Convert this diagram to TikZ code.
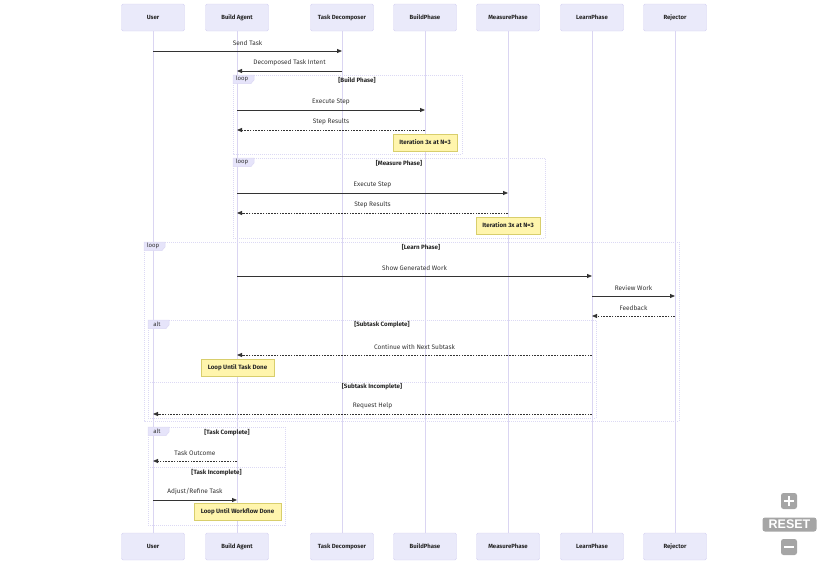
\documentclass[tikz,border=0pt]{standalone}
\usepackage{fontspec}
\setmainfont{Fira Sans}
\newfontfamily\btnfont{Liberation Sans}
\usetikzlibrary{arrows.meta}

\definecolor{actorfill}{HTML}{EAEAFA}
\definecolor{actorline}{HTML}{D6D2F2}
\definecolor{lifeline}{HTML}{DAD5F2}
\definecolor{msgline}{HTML}{333333}
\definecolor{framecol}{HTML}{DCD9F4}
\definecolor{tabfill}{HTML}{E6E4FA}
\definecolor{notefill}{HTML}{FFF5AD}
\definecolor{noteline}{HTML}{D8CE6C}
\definecolor{btngray}{HTML}{A5A5A5}

\tikzset{
  actor/.style={draw=actorline, fill=actorfill, rounded corners=1.5,
    minimum width=63, minimum height=27, inner sep=0,
    font=\fontsize{6}{7}\selectfont\bfseries, text=black!85},
  life/.style={lifeline, line width=0.9},
  msg/.style={msgline, line width=0.8, -{Triangle[length=5pt,width=4pt]}},
  reply/.style={msg, dash pattern=on 1.6pt off 1.2pt},
  lbl/.style={midway, yshift=8, text=msgline, font=\fontsize{6.5}{7}\selectfont},
  frame/.style={framecol, line width=0.6, dash pattern=on 1pt off 1pt},
  tab/.style={fill=tabfill, draw=framecol, line width=0.5},
  tablbl/.style={font=\fontsize{6}{7}\selectfont, inner sep=0, text=black!80},
  flbl/.style={font=\fontsize{6.2}{7}\selectfont\bfseries, inner sep=0, text=black!85},
  note/.style={draw=noteline, fill=notefill, line width=0.6, inner sep=0,
    minimum height=17, font=\fontsize{6.2}{7}\selectfont\bfseries, text=black!85},
  btn/.style={fill=btngray, rounded corners=2.5, inner sep=0}
}

\newcommand{\frametab}[4]{%
  \draw[tab] (#1,#2) -- ++(21,0) -- ++(0,5) -- ++(-3,3.5) -- (#1,#2+8.5) -- cycle;
  \node[tablbl] (#4) at (#1+9,#2+4.3) {#3};
}

\begin{document}
\begin{tikzpicture}[x=1pt, y=-1pt]
\useasboundingbox (0,0) rectangle (828,565);

\node[actor] (user)  at (153,17.5) {User};
\node[actor] (agent) at (237,17.5) {Build Agent};
\node[actor] (dec)   at (342,17.5) {Task Decomposer};
\node[actor] (build) at (425,17.5) {BuildPhase};
\node[actor] (meas)  at (508,17.5) {MeasurePhase};
\node[actor] (learn) at (592,17.5) {LearnPhase};
\node[actor] (rej)   at (675,17.5) {Rejector};

\node[actor] (user-b)  at (153,546.5) {User};
\node[actor] (agent-b) at (237,546.5) {Build Agent};
\node[actor] (dec-b)   at (342,546.5) {Task Decomposer};
\node[actor] (build-b) at (425,546.5) {BuildPhase};
\node[actor] (meas-b)  at (508,546.5) {MeasurePhase};
\node[actor] (learn-b) at (592,546.5) {LearnPhase};
\node[actor] (rej-b)   at (675,546.5) {Rejector};

\foreach \a in {user,agent,dec,build,meas,learn,rej}
  \draw[life] (\a.south) -- (\a-b.north);

\draw[frame] (233,75) rectangle (462,154);
\frametab{233}{75}{loop}{tab1}
\node[flbl] (buildlbl) at (357,80) {[Build Phase]};

\draw[frame] (233,158) rectangle (545,238);
\frametab{233}{158}{loop}{tab2}
\node[flbl] (measlbl) at (399,163) {[Measure Phase]};

\draw[frame] (144,242) rectangle (679,421);
\frametab{144}{242}{loop}{tab3}
\node[flbl] (learnlbl) at (421,247) {[Learn Phase]};

\draw[frame] (148,320) rectangle (596,418);
\draw[frame] (148,382) -- (596,382);
\frametab{148}{320}{alt}{tab4}
\node[flbl] (sublbl) at (382,325) {[Subtask Complete]};
\node[flbl] (subnolbl) at (372,387) {[Subtask Incomplete]};

\draw[frame] (148,427) rectangle (285,525);
\draw[frame] (148,467) -- (285,467);
\frametab{148}{427}{alt}{tab5}
\node[flbl] (tasklbl) at (227,433) {[Task Complete]};
\node[flbl] (tasknolbl) at (216.5,473) {[Task Incomplete]};

\coordinate (r1) at (0,51);
\coordinate (r2) at (0,71);
\coordinate (r3) at (0,110);
\coordinate (r4) at (0,130);
\coordinate (r5) at (0,193);
\coordinate (r6) at (0,213);
\coordinate (r7) at (0,276);
\coordinate (r8) at (0,296);
\coordinate (r9) at (0,316);
\coordinate (r10) at (0,355);
\coordinate (r11) at (0,414);
\coordinate (r12) at (0,461);
\coordinate (r13) at (0,500);

\draw[msg] (user |- r1) -- (dec |- r1) node[lbl]{Send Task};
\draw[msg] (dec |- r2) -- (agent |- r2) node[lbl]{Decomposed Task Intent};
\draw[msg] (agent |- r3) -- (build |- r3) node[lbl]{Execute Step};
\draw[reply] (build |- r4) -- (agent |- r4) node[lbl]{Step Results};
\draw[msg] (agent |- r5) -- (meas |- r5) node[lbl]{Execute Step};
\draw[reply] (meas |- r6) -- (agent |- r6) node[lbl]{Step Results};
\draw[msg] (agent |- r7) -- (learn |- r7) node[lbl]{Show Generated Work};
\draw[msg] (learn |- r8) -- (rej |- r8) node[lbl]{Review Work};
\draw[reply] (rej |- r9) -- (learn |- r9) node[lbl]{Feedback};
\draw[reply] (learn |- r10) -- (agent |- r10) node[lbl]{Continue with Next Subtask};
\draw[reply] (learn |- r11) -- (user |- r11) node[lbl]{Request Help};
\draw[reply] (agent |- r12) -- (user |- r12) node[lbl]{Task Outcome};
\draw[msg] (user |- r13) -- (agent |- r13) node[lbl]{Adjust/Refine Task};

\node[note, minimum width=64] (note1) at (425,142.5) {Iteration 3x at N=3};
\node[note, minimum width=64] (note2) at (508,225.5) {Iteration 3x at N=3};
\node[note, minimum width=73] (note3) at (237.5,367.5) {Loop Until Task Done};
\node[note, minimum width=87] (note4) at (237.5,512) {Loop Until Workflow Done};

\node[btn, minimum width=16, minimum height=16] (zoomin) at (789,501) {};
\draw[white, line width=2.4] ([xshift=-5]zoomin.center) -- ([xshift=5]zoomin.center);
\draw[white, line width=2.4] ([yshift=-5]zoomin.center) -- ([yshift=5]zoomin.center);
\node[btn, minimum width=54, minimum height=14, text=white,
  font=\btnfont\fontsize{12.5}{12.5}\selectfont\bfseries] (reset) at (789.5,524.5) {RESET};
\node[btn, minimum width=16, minimum height=16] (zoomout) at (789,547) {};
\draw[white, line width=2.4] ([xshift=-5]zoomout.center) -- ([xshift=5]zoomout.center);

\end{tikzpicture}
\end{document}
